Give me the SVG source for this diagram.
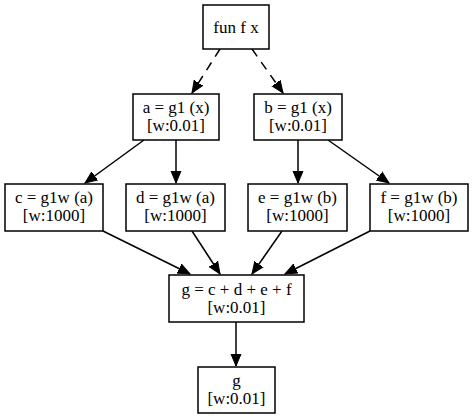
<svg xmlns="http://www.w3.org/2000/svg" width="474" height="418" viewBox="0 0 474 418">
<style>
.box{fill:#fff;stroke:#000;stroke-width:1.5}
text{font-family:"Liberation Serif","Times New Roman",serif;font-size:17px;text-anchor:middle;fill:#000}
.e{stroke:#000;stroke-width:1.5;fill:none}
.d{stroke-dasharray:9,7}
</style>
<defs>
<marker id="ah" markerUnits="userSpaceOnUse" markerWidth="14" markerHeight="14" viewBox="0 0 14 14" refX="12" refY="7" orient="auto">
<path d="M0,2 L12,7 L0,12 Z" fill="#000" stroke="#000" stroke-width="1"/>
</marker>
</defs>
<rect width="474" height="418" fill="#fff"/>
<g id="connectors">
<line class="e d" x1="220" y1="49" x2="192" y2="93" marker-end="url(#ah)"/>
<line class="e d" x1="252" y1="49" x2="283" y2="93" marker-end="url(#ah)"/>
<line class="e" x1="144" y1="140" x2="85" y2="183" marker-end="url(#ah)"/>
<line class="e" x1="176" y1="140" x2="176" y2="183" marker-end="url(#ah)"/>
<line class="e" x1="298" y1="140" x2="298" y2="183" marker-end="url(#ah)"/>
<line class="e" x1="328" y1="140" x2="389" y2="183" marker-end="url(#ah)"/>
<line class="e" x1="103" y1="231" x2="190" y2="274" marker-end="url(#ah)"/>
<line class="e" x1="192" y1="231" x2="220" y2="274" marker-end="url(#ah)"/>
<line class="e" x1="282" y1="231" x2="252" y2="274" marker-end="url(#ah)"/>
<line class="e" x1="370" y1="231" x2="285" y2="274" marker-end="url(#ah)"/>
<line class="e" x1="236" y1="322" x2="236" y2="366" marker-end="url(#ah)"/>
</g>
<g id="fun"><rect class="box" x="203" y="5" width="66" height="44"/><text x="236" y="33">fun f x</text></g>
<g id="a"><rect class="box" x="133" y="94" width="86" height="46"/><text x="176" y="113">a = g1 (x)</text><text x="176" y="131">[w:0.01]</text></g>
<g id="b"><rect class="box" x="254" y="94" width="88" height="46"/><text x="298" y="113">b = g1 (x)</text><text x="298" y="131">[w:0.01]</text></g>
<g id="c"><rect class="box" x="5" y="184" width="98" height="47"/><text x="54" y="203">c = g1w (a)</text><text x="54" y="221">[w:1000]</text></g>
<g id="d"><rect class="box" x="126" y="184" width="99" height="47"/><text x="175.5" y="203">d = g1w (a)</text><text x="175.5" y="221">[w:1000]</text></g>
<g id="e"><rect class="box" x="248" y="184" width="99" height="47"/><text x="297.5" y="203">e = g1w (b)</text><text x="297.5" y="221">[w:1000]</text></g>
<g id="f"><rect class="box" x="370" y="184" width="98" height="47"/><text x="419" y="203">f = g1w (b)</text><text x="419" y="221">[w:1000]</text></g>
<g id="g"><rect class="box" x="169" y="275" width="135" height="47"/><text x="236.5" y="295">g = c + d + e + f</text><text x="236.5" y="313">[w:0.01]</text></g>
<g id="gout"><rect class="box" x="198" y="367" width="77" height="46"/><text x="236.5" y="386">g</text><text x="236.5" y="404">[w:0.01]</text></g>
</svg>
